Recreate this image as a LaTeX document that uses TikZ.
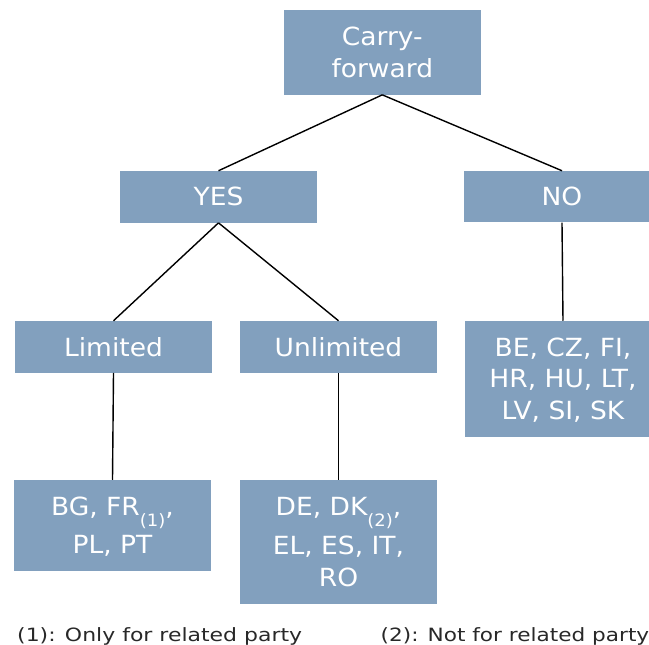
\documentclass[tikz,border=0pt]{standalone}
\usepackage{fontspec}
\setmainfont{DejaVu Sans}
\newfontfamily\nodefamily{DejaVu Sans}[FakeStretch=1.06]
\newfontfamily\footfamily{DejaVu Sans}[FakeStretch=1.2]
\newfontfamily\footfamilyb{DejaVu Sans}[FakeStretch=1.18]
\definecolor{boxblue}{RGB}{130,160,190}
\definecolor{foottext}{RGB}{40,40,40}
\newcommand{\cm}{\raisebox{0pt}[\height][0pt]{,}}
\newcommand{\lowsub}[1]{\raisebox{-11pt}{\fontsize{17}{17}\selectfont #1}}
\begin{document}
\begin{tikzpicture}[x=1pt,y=-1pt,
  box/.style={fill=boxblue, text=white, inner sep=0pt, align=center,
    font=\nodefamily\fontsize{25}{31.7}\selectfont},
  conn/.style={draw=black, line width=1.4pt},
  foot/.style={anchor=base west, inner sep=0pt, text=foottext}]
\useasboundingbox (0,0) rectangle (649,645);
\clip (0,0) rectangle (649,645);
\node[box, minimum width=196.7pt, minimum height=84.7pt] (carry) at (382.3,52.3) {Carry-\\forward};
\node[box, minimum width=197pt, minimum height=51.7pt] (yes) at (218.5,196.8) {YES};
\node[box, minimum width=196pt, minimum height=51.5pt] (no) at (562,196.7) {NO};
\node[box, minimum width=197pt, minimum height=51.7pt] (limited) at (113.5,346.8) {Limited};
\node[box, minimum width=197pt, minimum height=51.7pt] (unlimited) at (338.5,346.8) {Unlimited};
\node[box, minimum width=196pt, minimum height=115.7pt] (be) at (563,378.8) {BE\cm{} CZ\cm{} FI\cm\\HR\cm{} HU\cm{} LT\cm\\LV\cm{} SI\cm{} SK};
\node[box, minimum width=197pt, minimum height=90.7pt] (bg) at (112.5,525.3) {BG\cm{} FR\lowsub{(1)}\cm\\[6.6pt]PL\cm{} PT};
\node[box, minimum width=197pt, minimum height=123.7pt] (de) at (338.5,541.8) {DE\cm{} DK\lowsub{(2)}\cm\\[6.6pt]EL\cm{} ES\cm{} IT\cm\\RO};
\draw[conn] (carry.south) -- (yes.north);
\draw[conn] (carry.south) -- (no.north);
\draw[conn] (yes.south) -- (limited.north);
\draw[conn] (yes.south) -- (unlimited.north);
\draw[conn] (no.south) -- (be.north);
\draw[conn] (limited.south) -- (bg.north);
\draw[conn] (unlimited.south) -- (de.north);
\node[foot, font=\footfamily\fontsize{18.3}{22}\selectfont] (f1) at (17,641) {(1): Only for related party};
\node[foot, font=\footfamilyb\fontsize{18.3}{22}\selectfont] (f2) at (380.5,641) {(2): Not for related party};
\end{tikzpicture}
\end{document}
